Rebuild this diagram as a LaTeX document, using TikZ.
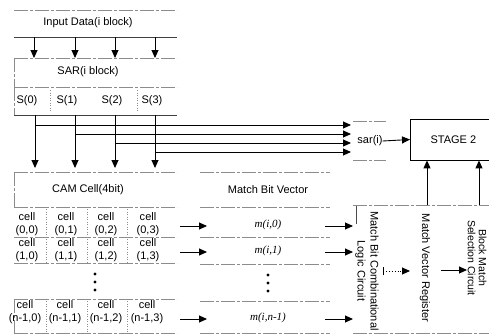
\documentclass[tikz,border=0pt]{standalone}
\usepackage{fontspec}
\setmainfont{Liberation Sans}
\newfontfamily\mfont{Liberation Serif}
\usetikzlibrary{arrows.meta}
\begin{document}
\begin{tikzpicture}[x=1pt,y=-1pt,
  txt/.style={inner sep=0pt, font=\fontsize{11}{13}\selectfont},
  faint/.style={black!45, line width=0.5pt, dash pattern=on 14pt off 2pt on 3pt off 2pt},
  dark/.style={black!75, line width=0.7pt},
  conn/.style={black, line width=0.9pt, -{Triangle[length=8pt,width=7pt]}},
  dotconn/.style={black, line width=0.9pt, dotted, -{Triangle[length=8pt,width=7pt]}},
  sep/.style={black!45, line width=0.5pt, dotted},
  vtxt/.style={txt, rotate=-90, align=center},
  bigdot/.style={circle, fill=black, inner sep=0pt, minimum size=3.2pt}]
\clip (0,0) rectangle (489,335);
\useasboundingbox (0,0) rectangle (489,335);

% ---------- box edges (faint) ----------
\draw[faint] (14,10) -- (177,10);
\draw[dark]  (14,37) -- (177,37);
\draw[faint] (14,58) -- (177,58);
\draw[faint] (14,58) -- (14,87);
\draw[faint] (14,87) -- (177,87);
\draw[faint] (14,87) -- (14,115);
\draw[dark]  (14,115) -- (177,115);
\draw[faint] (14,172) -- (177,172);
\draw[faint] (200,172) -- (330,172);
\draw[faint] (14,172) -- (14,207);
\draw[faint] (14,207) -- (177,207);
\draw[faint] (200,207) -- (330,207);
\draw[faint] (14,237) -- (177,237);
\draw[faint] (200,237) -- (330,237);
\draw[faint] (14,263) -- (177,263);
\draw[faint] (200,264) -- (330,264);
\draw[faint] (14,299) -- (177,299);
\draw[faint] (200,301) -- (330,301);
\draw[faint] (14,299) -- (14,333);
\draw[faint] (14,333) -- (177,333);
\draw[faint] (200,333) -- (330,333);
% S-row separators
\draw[sep] (50,90) -- (50,112);
\draw[sep] (137,90) -- (137,112);
% cell separators
\foreach \x in {46,87,127} {
  \draw[sep] (\x,209) -- (\x,262);
  \draw[sep] (\x,301) -- (\x,332);
}
% sar(i) box edges
\draw[faint] (353,121) -- (386,121);
\draw[faint] (353,160) -- (386,160);
% right boxes
\draw[faint] (353,205) -- (489,205);
\draw[faint] (353,333) -- (489,333);
\draw[black!70, line width=0.6pt] (356,206) -- (356,224);

% ---------- text nodes ----------
\node[txt] (inp) at (88,23) {Input Data(i block)};
\node[txt] (sar) at (88,72) {SAR(i block)};
\node[txt] (s0) at (27,101) {S(0)};
\node[txt] (s1) at (67,101) {S(1)};
\node[txt] (s2) at (112,101) {S(2)};
\node[txt] (s3) at (152,101) {S(3)};
\node[txt] (cam) at (88,190) {CAM Cell(4bit)};
\node[txt] (mbv) at (268,190) {Match Bit Vector};

\node[txt,align=center] (c00) at (27,224) {cell\\(0,0)};
\node[txt,align=center] (c01) at (66,224) {cell\\(0,1)};
\node[txt,align=center] (c02) at (106,224) {cell\\(0,2)};
\node[txt,align=center] (c03) at (148,224) {cell\\(0,3)};
\node[txt,align=center] (c10) at (27,250) {cell\\(1,0)};
\node[txt,align=center] (c11) at (66,250) {cell\\(1,1)};
\node[txt,align=center] (c12) at (106,250) {cell\\(1,2)};
\node[txt,align=center] (c13) at (148,250) {cell\\(1,3)};
\node[txt,align=center] (cn0) at (25,312) {cell\\(n-1,0)};
\node[txt,align=center] (cn1) at (65,312) {cell\\(n-1,1)};
\node[txt,align=center] (cn2) at (106,312) {cell\\(n-1,2)};
\node[txt,align=center] (cn3) at (147,312) {cell\\(n-1,3)};
\node[bigdot] (cd1) at (95,274) {};
\node[bigdot] (cd2) at (95,282) {};
\node[bigdot] (cd3) at (95,290) {};

\node[txt] (m0) at (268,225) {\mfont\itshape m(i,0)};
\node[txt] (m1) at (268,251) {\mfont\itshape m(i,1)};
\node[txt] (mn) at (268,318) {\mfont\itshape m(i,n-1)};
\node[bigdot] (md1) at (268,275) {};
\node[bigdot] (md2) at (268,283) {};
\node[bigdot] (md3) at (268,291) {};

\node[txt] (sari) at (370,141) {sar(i)};
\node[draw, line width=0.8pt, minimum width=86pt, minimum height=41pt,
      anchor=west, txt] (stage) at (410,139.5) {STAGE 2};

\node[vtxt] (mbc) at (367,271) {Match Bit Combinational\\Logic Circuit};
\node[vtxt] (mvr) at (425,268) {Match Vector Register};
\node[vtxt, font=\fontsize{10.5}{11}\selectfont] (bms) at (477,258) {Block Match\\Selection Circuit};

% ---------- coordinates ----------
\foreach \i/\x in {1/34,2/75,3/115,4/155} {
  \coordinate (ia\i) at (\x,37);
  \coordinate (ib\i) at (\x,58);
}
\coordinate (sa1) at (35,115);  \coordinate (sb1) at (35,168);
\coordinate (sa2) at (75,115);  \coordinate (sb2) at (75,168);
\coordinate (sa3) at (115,115); \coordinate (sb3) at (115,168);
\coordinate (sa4) at (155,115); \coordinate (sb4) at (155,168);
\coordinate (h1a) at (35,125);  \coordinate (h1b) at (351,125);
\coordinate (h2a) at (75,134);  \coordinate (h2b) at (351,134);
\coordinate (h3a) at (115,143); \coordinate (h3b) at (351,143);
\coordinate (h4a) at (155,152); \coordinate (h4b) at (351,152);
\coordinate (r0a) at (180,226); \coordinate (r0b) at (207,226);
\coordinate (r1a) at (180,252); \coordinate (r1b) at (207,252);
\coordinate (rna) at (180,319); \coordinate (rnb) at (207,319);
\coordinate (q0a) at (325,226); \coordinate (q0b) at (353,226);
\coordinate (q1a) at (325,252); \coordinate (q1b) at (353,252);
\coordinate (qna) at (325,319); \coordinate (qnb) at (353,319);
\coordinate (mbcout) at (383,271); \coordinate (mvrin) at (410,271);
\coordinate (mvrout) at (441,270); \coordinate (bmsin) at (467,270);
\coordinate (mvrtop) at (427,205);
\coordinate (bmstop) at (479,205);

% ---------- connectors ----------
\foreach \i in {1,2,3,4} {
  \draw[conn] (ia\i) -- (ib\i);
  \draw[conn] (sa\i) -- (sb\i);
}
\draw[conn] (h1a) -- (h1b);
\draw[conn] (h2a) -- (h2b);
\draw[conn] (h3a) -- (h3b);
\draw[conn] (h4a) -- (h4b);
\draw[conn] (r0a) -- (r0b);
\draw[conn] (r1a) -- (r1b);
\draw[conn] (rna) -- (rnb);
\draw[conn] (q0a) -- (q0b);
\draw[conn] (q1a) -- (q1b);
\draw[conn] (qna) -- (qnb);
\draw[conn] (sari.east) -- (stage.west);
\draw[black, line width=0.8pt] ([yshift=-4pt]mbcout) -- ([yshift=4pt]mbcout);
\draw[dotconn] (mbcout) -- (mvrin);
\draw[conn] (mvrout) -- (bmsin);
\draw[conn] (mvrtop) -- (mvrtop |- stage.south);
\draw[conn] (bmstop) -- (bmstop |- stage.south);
\end{tikzpicture}
\end{document}
